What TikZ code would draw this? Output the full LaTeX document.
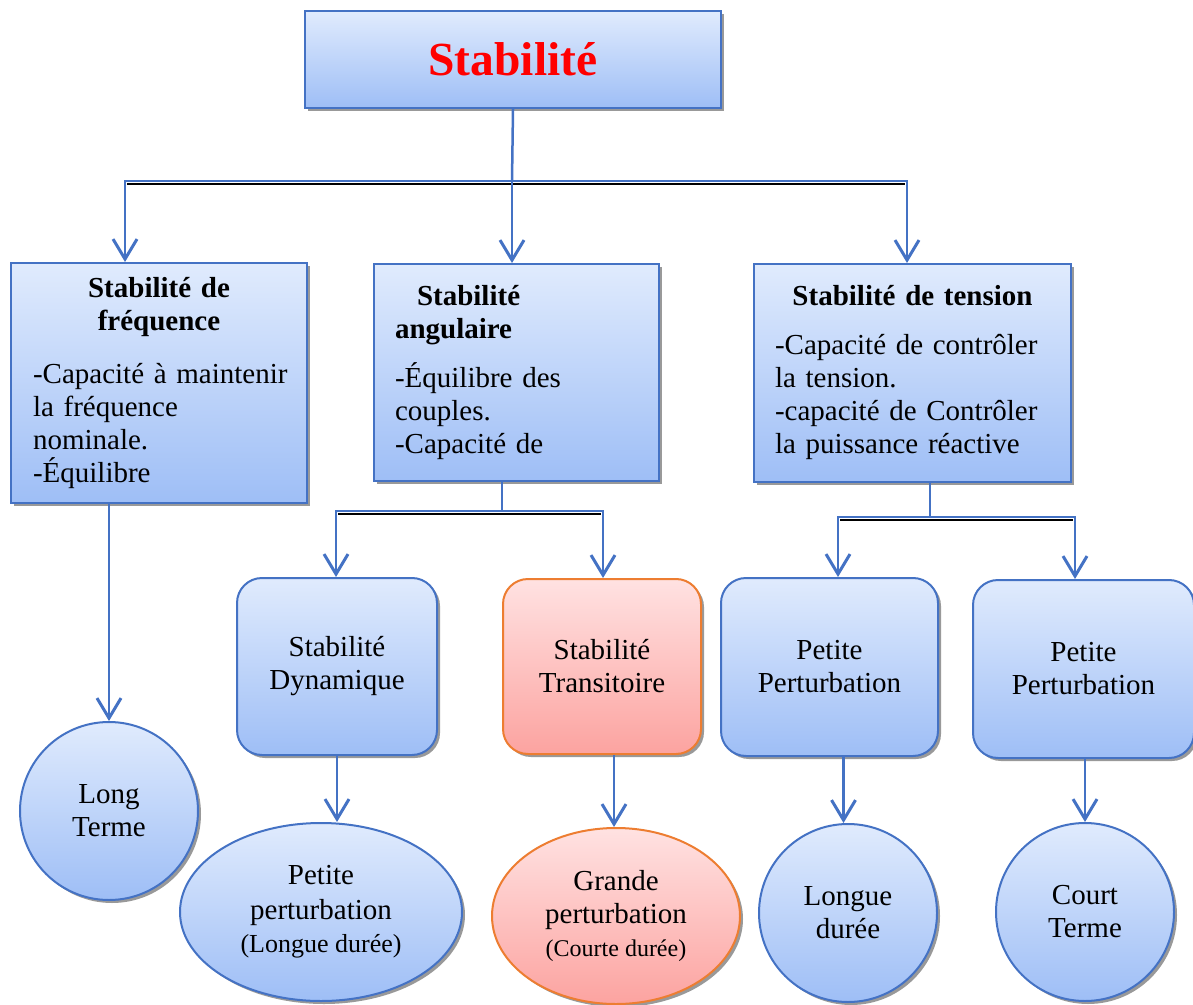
\documentclass[tikz,border=0pt]{standalone}
\usepackage{fontspec}
\setmainfont{Liberation Serif}
\usepackage{tikz}
\usetikzlibrary{arrows.meta,shapes.geometric,shadows,calc}

\definecolor{wordblue}{RGB}{68,114,196}
\definecolor{wordorange}{RGB}{237,125,49}
\definecolor{bluetop}{RGB}{224,235,253}
\definecolor{bluebot}{RGB}{158,190,246}
\definecolor{pinktop}{RGB}{255,226,226}
\definecolor{pinkbot}{RGB}{252,163,160}

\newcommand{\bodyfont}{\fontsize{14.5pt}{16.5pt}\selectfont}

\begin{document}
\begin{tikzpicture}[x=0.5pt, y=-0.5pt,
  mainbox/.style={draw=wordblue, line width=1pt, top color=bluetop, bottom color=bluebot,
    drop shadow={shadow xshift=1.5pt, shadow yshift=-1.5pt, fill=gray!80, opacity=1},
    anchor=north west, inner sep=0pt, font=\bodyfont},
  roundbox/.style={mainbox, rounded corners=12.5pt, align=center},
  roundpink/.style={roundbox, draw=wordorange, top color=pinktop, bottom color=pinkbot},
  endcircle/.style={mainbox, anchor=center, circle, minimum size=89pt, align=center},
  endellipse/.style={mainbox, anchor=center, ellipse, align=center},
  wire/.style={draw=wordblue, line width=1.25pt},
  arr/.style={wire, -{Straight Barb[length=10pt, width=12pt, line width=1.5pt]}},
  busbar/.style={draw=black, line width=1pt}]
  \useasboundingbox (0,0) rectangle (1193,1005);

  % top level
  \node[mainbox, minimum width=208pt, minimum height=48.5pt, text=red,
        font=\fontsize{23.75pt}{28pt}\selectfont\bfseries] (stab) at (304,10) {Stabilité};

  % second level
  \node[mainbox, minimum width=148pt, minimum height=120pt, text width=126pt] (freq) at (10,262)
    {{\centering\bfseries Stabilité de\\ fréquence\par}\vspace{10pt}\raggedright
     \mbox{-Capacité à maintenir}\\ la fréquence\\ nominale.\\ -Équilibre};
  \node[mainbox, minimum width=142.5pt, minimum height=108.5pt, text width=121.5pt] (ang) at (373,263)
    {\raggedright{\bfseries\hspace*{11pt}Stabilité\\ angulaire\par}\vspace{8pt}
     -Équilibre des\\ couples.\\ -Capacité de};
  \node[mainbox, minimum width=158.5pt, minimum height=109pt, text width=137.5pt] (tens) at (753,263)
    {{\centering\bfseries Stabilité de tension\par}\vspace{8pt}\raggedright
     \mbox{-Capacité de contrôler}\\ la tension.\\ \mbox{-capacité de Contrôler}\\ \mbox{la puissance réactive}};

  % third level
  \node[roundbox, minimum width=100pt, minimum height=88.5pt] (dyn) at (236,577) {Stabilité\\ Dynamique};
  \node[roundpink, minimum width=99pt, minimum height=87.5pt] (trans) at (502,578) {Stabilité\\ Transitoire};
  \node[roundbox, minimum width=108.5pt, minimum height=89pt] (pp1) at (720,577) {Petite\\ Perturbation};
  \node[roundbox, minimum width=110.5pt, minimum height=89pt] (pp2) at (972,579) {Petite\\ Perturbation};

  % last level
  \node[endcircle] (lt) at (109,811) {Long\\ Terme};
  \node[endellipse, minimum width=141pt, minimum height=89pt] (ell1) at (321,912)
    {Petite\\[1pt] perturbation\\ {\fontsize{13pt}{16pt}\selectfont(Longue durée)}};
  \node[endellipse, minimum width=124pt, minimum height=88pt, draw=wordorange,
        top color=pinktop, bottom color=pinkbot] (ell2) at (616,916)
    {Grande\\ perturbation\\ {\fontsize{12pt}{15pt}\selectfont(Courte durée)}};
  \node[endcircle] (ld) at (848,913) {Longue\\ durée};
  \node[endcircle] (ct) at (1085,912) {Court\\ Terme};

  % bus coordinates
  \coordinate (bus1) at (512,181);
  \coordinate (bus1l) at (125,181);
  \coordinate (bus1r) at (907,181);
  \coordinate (bus2) at (502,511);
  \coordinate (bus2l) at (336,511);
  \coordinate (bus2r) at (603,511);
  \coordinate (bus3) at (930,517);
  \coordinate (bus3l) at (838,517);
  \coordinate (bus3r) at (1075,517);

  % connectors
  \draw[wire] (stab.south) -- (bus1);
  \draw[busbar] ([xshift=1pt,yshift=-1.6pt]bus1l) -- ([xshift=-1pt,yshift=-1.6pt]bus1r);
  \draw[arr] (bus1) -- (bus1 |- ang.north);
  \draw[arr] (bus1) -- (bus1l) -- (bus1l |- freq.north);
  \draw[arr] (bus1) -- (bus1r) -- (bus1r |- tens.north);

  \draw[wire] (bus2 |- ang.south) -- (bus2);
  \draw[busbar] ([xshift=1pt,yshift=-1.6pt]bus2l) -- ([xshift=-1pt,yshift=-1.6pt]bus2r);
  \draw[arr] (bus2) -- (bus2l) -- (bus2l |- dyn.north);
  \draw[arr] (bus2) -- (bus2r) -- (bus2r |- trans.north);

  \draw[wire] (bus3 |- tens.south) -- (bus3);
  \draw[busbar] ([xshift=1pt,yshift=-1.6pt]bus3l) -- ([xshift=-1pt,yshift=-1.6pt]bus3r);
  \draw[arr] (bus3) -- (bus3l) -- (bus3l |- pp1.north);
  \draw[arr] (bus3) -- (bus3r) -- (bus3r |- pp2.north);

  \draw[arr] (lt.north |- freq.south) -- (lt.north);
  \draw[arr] (dyn.south) -- (dyn.south |- ell1.north);
  \draw[arr] ([xshift=6pt]trans.south) -- ([xshift=6pt]trans.south |- ell2.north);
  \draw[arr] ([xshift=7pt]pp1.south) -- ([xshift=7pt]pp1.south |- ld.north);
  \draw[arr] (ct.north |- pp2.south) -- (ct.north);
\end{tikzpicture}
\end{document}
